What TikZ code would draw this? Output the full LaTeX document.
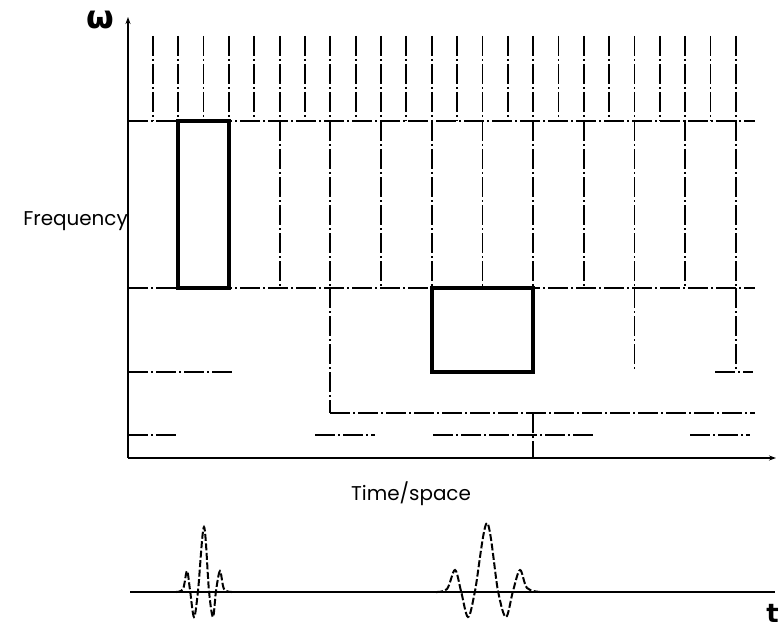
\documentclass[tikz,border=0pt]{standalone}
\usepackage{fontspec}
\setmainfont{Poppins}
\newfontfamily\dejavu{DejaVu Sans}
\usetikzlibrary{arrows.meta}
\begin{document}
\begin{tikzpicture}[x=1bp,y=-1bp,
  gridline/.style={line width=1.8bp, dash pattern=on 20bp off 3bp on 2bp off 3bp},
  tile/.style={line width=3.8bp},
  axisline/.style={line width=2.6bp},
  axisarrow/.style={axisline,-{Stealth[length=7bp,width=5bp]}},
  wave/.style={line width=2bp, dash pattern=on 7bp off 2.5bp},
  lbl/.style={inner sep=0pt, font=\fontsize{20}{20}\selectfont}]
\useasboundingbox (0,0) rectangle (783,630);

% axes
\coordinate (O) at (128,458);
\coordinate (ytop) at (128,17);
\coordinate (xend) at (776,458);
\draw[axisarrow] (O) -- (ytop);
\draw[axisarrow] (O) -- (xend);

% band 1 (finest time resolution)
\foreach \k in {1,...,24}
  \draw[gridline] ({127.5+25.35*\k},36) -- ({127.5+25.35*\k},121);
% band 2
\foreach \k in {6,8,...,24}
  \draw[gridline] ({127.5+25.35*\k},121) -- ({127.5+25.35*\k},288);
% horizontal band limits
\draw[gridline] (128,121) -- (755,121);
\draw[gridline] (128,288) -- (755,288);
\draw[gridline] (128,372) -- (232,372);
\draw[gridline] (715,372) -- (753,372);
\draw[gridline] (330,413) -- (755,413);
\draw[gridline] (128,435) -- (178,435);
\draw[gridline] (315,435) -- (375,435);
\draw[gridline] (433,435) -- (593,435);
\draw[gridline] (690,435) -- (750,435);
% remaining vertical limits
\draw[gridline] (330.3,288) -- (330.3,413);
\draw[gridline] (634.5,288) -- (634.5,372);
\draw[gridline] (735.9,288) -- (735.9,372);
\draw[gridline] (533.1,413) -- (533.1,458);

% highlighted tiles
\draw[tile] (178.2,121) rectangle (228.9,288);
\draw[tile] (431.7,288) rectangle (533.1,372);

% labels
\node[inner sep=0pt, font=\dejavu\bfseries\fontsize{32}{32}\selectfont] (omega) at (100,20) {ω};
\node[lbl, anchor=base east] (freq) at (128,226) {Frequency};
\node[lbl, anchor=base] (time) at (411,500) {Time/space};
\node[inner sep=0pt, font=\dejavu\bfseries\fontsize{26}{26}\selectfont, anchor=base east] (tlabel) at (779,622) {t};

% signal line and wavelets
\coordinate (s0) at (130,592);
\coordinate (s1) at (775,592);
\draw[axisline] (s0) -- (s1);
\draw[wave] plot[smooth, tension=0.55] coordinates {(176,592) (183,589) (187,571) (190,590) (194,617) (198,591) (204,527) (209,591) (213,617) (216,591) (220,571) (224,589) (232,592)};
\draw[wave] plot[smooth, tension=0.55] coordinates {(436,592) (447,589) (455,570) (461,591) (468,617) (475,591) (487,523) (498,591) (506,617) (513,591) (520,570) (527,588) (540,592)};
\end{tikzpicture}
\end{document}
